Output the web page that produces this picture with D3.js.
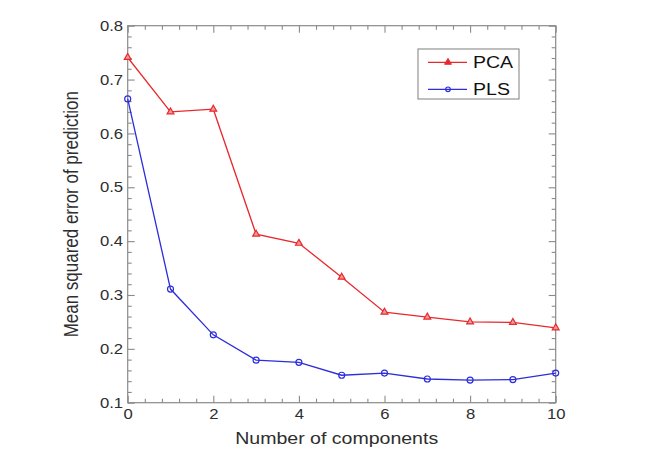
<!DOCTYPE html>
<html>
<head>
<meta charset="utf-8">
<script src="https://cdn.jsdelivr.net/npm/d3@7"></script>
<style>
  html, body { margin: 0; padding: 0; background: #fff; }
  svg { display: block; }
  text { font-family: "Liberation Sans", Arial, sans-serif; }
</style>
</head>
<body>
<svg id="chart" width="651" height="449"></svg>
<script>
const components = [0, 1, 2, 3, 4, 5, 6, 7, 8, 9, 10];
const pcaValues = [0.741, 0.640, 0.645, 0.413, 0.396, 0.333, 0.268, 0.259, 0.250, 0.249, 0.239];
const plsValues = [0.664, 0.311, 0.226, 0.179, 0.175, 0.151, 0.155, 0.144, 0.142, 0.143, 0.155];
const xTickLabels = [0, 2, 4, 6, 8, 10];
const yTickLabels = [0.1, 0.2, 0.3, 0.4, 0.5, 0.6, 0.7, 0.8];
const seriesNames = ["PCA", "PLS"];

const svg = d3.select("#chart");
const L = 127.7, R = 555.7, T = 25.7, B = 402.7;
const SX = 1.15;
const x = d3.scaleLinear().domain([0, 10]).range([L, R]);
const y = d3.scaleLinear().domain([0.1, 0.8]).range([B, T]);

const axisColor = "#8a8a8a";
const textColor = "#2e2e2e";
const red = "#e8282c";
const blue = "#2d2ddb";

// frame
svg.append("rect").attr("x", L).attr("y", T).attr("width", R - L).attr("height", B - T)
  .attr("fill", "none").attr("stroke", axisColor).attr("stroke-width", 1.2);

const xMinor = d3.range(0, 10.001, 0.4).filter(v => Math.abs(v / 2 - Math.round(v / 2)) > 1e-6);
const yMinor = d3.range(0.1, 0.8001, 0.02).filter(v => Math.abs(v * 10 - Math.round(v * 10)) > 1e-6);

function styleAxis(g) {
  g.select(".domain").remove();
  g.selectAll(".tick line").attr("stroke", axisColor).attr("stroke-width", 1.1);
}

// minor ticks
svg.append("g").attr("transform", `translate(0,${B})`)
  .call(d3.axisBottom(x).tickValues(xMinor).tickSize(-4).tickFormat(""))
  .call(styleAxis);
svg.append("g").attr("transform", `translate(0,${T})`)
  .call(d3.axisTop(x).tickValues(xMinor).tickSize(-4).tickFormat(""))
  .call(styleAxis);
svg.append("g").attr("transform", `translate(${L},0)`)
  .call(d3.axisLeft(y).tickValues(yMinor).tickSize(-4).tickFormat(""))
  .call(styleAxis);
svg.append("g").attr("transform", `translate(${R},0)`)
  .call(d3.axisRight(y).tickValues(yMinor).tickSize(-4).tickFormat(""))
  .call(styleAxis);

// major ticks
const xAxisG = svg.append("g").attr("transform", `translate(0,${B})`)
  .call(d3.axisBottom(x).tickValues(xTickLabels).tickSize(-7).tickPadding(6).tickFormat(d3.format("d")))
  .call(styleAxis);
svg.append("g").attr("transform", `translate(0,${T})`)
  .call(d3.axisTop(x).tickValues(xTickLabels).tickSize(-7).tickFormat(""))
  .call(styleAxis);
const yAxisG = svg.append("g").attr("transform", `translate(${L},0)`)
  .call(d3.axisLeft(y).tickValues(yTickLabels).tickSize(-7).tickPadding(4).tickFormat(d3.format(".1f")))
  .call(styleAxis);
svg.append("g").attr("transform", `translate(${R},0)`)
  .call(d3.axisRight(y).tickValues(yTickLabels).tickSize(-7).tickFormat(""))
  .call(styleAxis);

xAxisG.selectAll(".tick text")
  .attr("font-size", 14.5).attr("fill", textColor)
  .attr("font-family", '"Liberation Sans", Arial, sans-serif')
  .attr("transform", `scale(${SX},1)`);
yAxisG.selectAll(".tick text")
  .attr("font-size", 14.5).attr("fill", textColor)
  .attr("font-family", '"Liberation Sans", Arial, sans-serif')
  .attr("transform", `scale(${SX},1)`);

// axis titles
svg.append("text")
  .attr("transform", `translate(${(L + R) / 2 - 5},444) scale(${SX},1)`)
  .attr("text-anchor", "middle").attr("font-size", 17).attr("fill", textColor)
  .text("Number of components");
svg.append("text")
  .attr("transform", `translate(78,${(T + B) / 2}) scale(${SX},1) rotate(-90)`)
  .attr("text-anchor", "middle").attr("font-size", 17).attr("fill", textColor)
  .text("Mean squared error of prediction");

// lines
const line = d3.line().x((d, i) => x(components[i])).y(d => y(d));
svg.append("path").datum(pcaValues).attr("d", line)
  .attr("fill", "none").attr("stroke", red).attr("stroke-width", 1.3);
svg.append("path").datum(plsValues).attr("d", line)
  .attr("fill", "none").attr("stroke", blue).attr("stroke-width", 1.3);

const tri = d3.symbol().type(d3.symbolTriangle).size(20);
svg.append("g").selectAll("path").data(pcaValues).join("path")
  .attr("transform", (d, i) => `translate(${x(components[i])},${y(d)})`)
  .attr("d", tri).attr("fill", "#f29a9a").attr("stroke", red).attr("stroke-width", 1.2);
svg.append("g").selectAll("circle").data(plsValues).join("circle")
  .attr("cx", (d, i) => x(components[i])).attr("cy", d => y(d)).attr("r", 3)
  .attr("fill", "none").attr("stroke", blue).attr("stroke-width", 1.2);

// legend
const leg = svg.append("g");
leg.append("rect").attr("x", 418).attr("y", 49).attr("width", 101).attr("height", 50)
  .attr("fill", "#fff").attr("stroke", axisColor).attr("stroke-width", 1.1);
const legY = [62.3, 89.3];
const legColors = [red, blue];
seriesNames.forEach((name, i) => {
  leg.append("line").attr("x1", 428).attr("x2", 467).attr("y1", legY[i]).attr("y2", legY[i])
    .attr("stroke", legColors[i]).attr("stroke-width", 1.2);
  if (i === 0) {
    leg.append("path").attr("transform", `translate(448,${legY[i]})`)
      .attr("d", d3.symbol().type(d3.symbolTriangle).size(20)).attr("fill", red).attr("stroke", red);
  } else {
    leg.append("circle").attr("cx", 448).attr("cy", legY[i]).attr("r", 2.3)
      .attr("fill", "none").attr("stroke", blue).attr("stroke-width", 1.2);
  }
  leg.append("text").attr("transform", `translate(473,${legY[i] + 6}) scale(${SX},1)`)
    .attr("font-size", 17).attr("fill", "#111").text(name);
});
</script>
</body>
</html>
